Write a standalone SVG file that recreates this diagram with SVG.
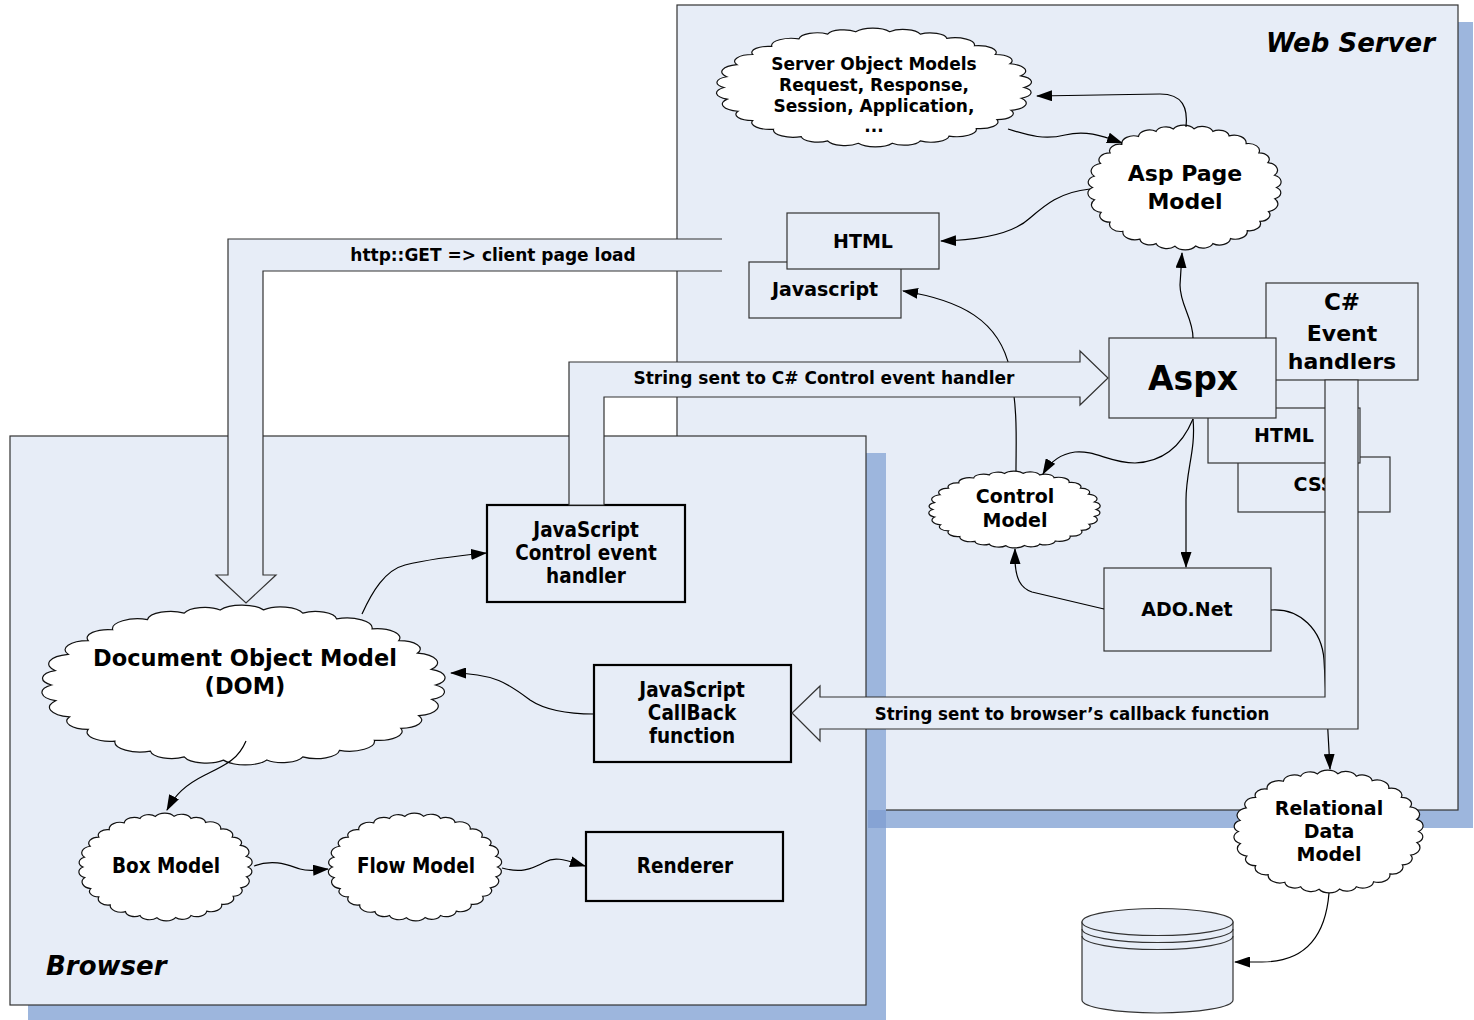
<svg xmlns="http://www.w3.org/2000/svg" width="1474" height="1020" viewBox="0 0 1474 1020">
<defs>
<style>
.panel{fill:#e7edf7;stroke:#333;stroke-width:1.2}
.shadow{fill:#9db6dd}
.box{fill:#e7edf7;stroke:#333;stroke-width:1.2}
.bbox{fill:#e7edf7;stroke:#000;stroke-width:2.2}
.cloud{fill:#fff;stroke:#111;stroke-width:1.2}
.conn{fill:none;stroke:#000;stroke-width:1.2;marker-end:url(#ah)}
.blk{fill:#e7edf7;stroke:#333;stroke-width:1.2}
.blkfill{fill:#e7edf7;stroke:none}
.blkline{fill:none;stroke:#333;stroke-width:1.2}
text{font-family:"DejaVu Sans",Verdana,sans-serif;font-weight:bold;fill:#000;text-anchor:middle;dominant-baseline:central}
.t{font-family:"DejaVu Sans Condensed","DejaVu Sans",sans-serif;font-stretch:condensed}
.title{font-style:italic;font-size:26px;dominant-baseline:alphabetic}
</style>
<marker id="ah" markerUnits="userSpaceOnUse" markerWidth="16" markerHeight="11" refX="15" refY="5.5" orient="auto" viewBox="0 0 16 11"><path d="M0,0 L16,5.5 L0,11 Z" fill="#000"/></marker>
<path id="cl" vector-effect="non-scaling-stroke" d="M92,0 A10.2,10.2 0 0 1 90.3,17.6 A12.1,12.1 0 0 1 84,37.4 A10.2,10.2 0 0 1 75.4,52.8 A11.1,11.1 0 0 1 62.7,67.3 A12.1,12.1 0 0 1 46,79.7 A11.1,11.1 0 0 1 28.4,87.5 A10.2,10.2 0 0 1 11.2,91.3 A12.1,12.1 0 0 1 -9.6,91.5 A11.1,11.1 0 0 1 -28.4,87.5 A10.2,10.2 0 0 1 -44.6,80.5 A12.1,12.1 0 0 1 -61.6,68.4 A11.1,11.1 0 0 1 -74.4,54.1 A10.2,10.2 0 0 1 -83.4,38.9 A12.1,12.1 0 0 1 -90,19.1 A11.1,11.1 0 0 1 -92,0 A10.2,10.2 0 0 1 -90.3,-17.6 A12.1,12.1 0 0 1 -84,-37.4 A11.1,11.1 0 0 1 -74.4,-54.1 A10.2,10.2 0 0 1 -62.7,-67.3 A12.1,12.1 0 0 1 -46,-79.7 A11.1,11.1 0 0 1 -28.4,-87.5 A10.2,10.2 0 0 1 -11.2,-91.3 A12.1,12.1 0 0 1 9.6,-91.5 A11.1,11.1 0 0 1 28.4,-87.5 A10.2,10.2 0 0 1 44.6,-80.5 A12.1,12.1 0 0 1 61.6,-68.4 A11.1,11.1 0 0 1 74.4,-54.1 A10.2,10.2 0 0 1 83.4,-38.9 A12.1,12.1 0 0 1 90,-19.1 A11.1,11.1 0 0 1 92,0 Z"/>
</defs>

<g id="panels">
<rect class="shadow" x="695" y="22" width="778" height="806"/>
<rect class="panel" x="677" y="5" width="781" height="805"/>
<rect class="shadow" x="28" y="453" width="858" height="567"/>
<rect fill="#86a3d4" x="868" y="810" width="18" height="18"/>
<rect class="panel" x="10" y="436" width="856" height="569"/>
<text class="title" x="1435" y="52" style="text-anchor:end">Web Server</text>
<text class="title" x="46" y="975" style="text-anchor:start">Browser</text>
</g>

<g id="node-som">
<use href="#cl" class="cloud" transform="translate(874,87.5) scale(1.631,0.61)"/>
<text x="874" y="64" font-size="17">Server Object Models</text>
<text x="874" y="85" font-size="17">Request, Response,</text>
<text x="874" y="106" font-size="17">Session, Application,</text>
<text x="874" y="126" font-size="17">...</text>
</g>

<g id="node-asp">
<use href="#cl" class="cloud" transform="translate(1184.5,187.5) scale(1.0,0.641)"/>
<text x="1185" y="173" font-size="22">Asp Page</text>
<text x="1185" y="201" font-size="22">Model</text>
</g>

<g id="node-javascript">
<rect class="box" x="749" y="262" width="152" height="56"/>
<text x="825" y="289" font-size="19">Javascript</text>
</g>
<g id="node-html-top">
<rect class="box" x="787" y="213" width="152" height="56"/>
<text x="863" y="241" font-size="19">HTML</text>
</g>

<g id="node-css">
<rect class="box" x="1238" y="457" width="152" height="55"/>
<text x="1314" y="484" font-size="19">CSS</text>
</g>
<g id="node-html-aspx">
<rect class="box" x="1208" y="408" width="152" height="55"/>
<text x="1284" y="435" font-size="19">HTML</text>
</g>
<g id="node-csharp">
<rect class="box" x="1266" y="283" width="152" height="97"/>
<text x="1342" y="302" font-size="23">C#</text>
<text x="1342" y="333" font-size="22">Event</text>
<text x="1342" y="361" font-size="22">handlers</text>
</g>
<g id="node-aspx">
<rect class="box" x="1109" y="338" width="167" height="80"/>
<text x="1193" y="378" font-size="33">Aspx</text>
</g>

<g id="node-control">
<use href="#cl" class="cloud" transform="translate(1014.5,509.5) scale(0.887,0.395)"/>
<text x="1015" y="496" font-size="19">Control</text>
<text x="1015" y="520" font-size="19">Model</text>
</g>

<g id="node-ado">
<rect class="box" x="1104" y="568" width="167" height="83"/>
<text x="1187" y="609" font-size="19">ADO.Net</text>
</g>

<g id="node-relational">
<use href="#cl" class="cloud" transform="translate(1328.5,831.5) scale(0.979,0.631)"/>
<text x="1329" y="808" font-size="19">Relational</text>
<text x="1329" y="831" font-size="19">Data</text>
<text x="1329" y="854" font-size="19">Model</text>
</g>

<g id="node-db">
<path class="box" d="M1082,922 L1082,1000 A75.5,13 0 0 0 1233,1000 L1233,922 Z"/>
<ellipse class="box" cx="1157.5" cy="922" rx="75.5" ry="13.5"/>
<path class="blkline" d="M1082,929 A75.5,13.5 0 0 0 1233,929 M1082,936 A75.5,13.5 0 0 0 1233,936"/>
</g>

<g id="node-dom">
<use href="#cl" class="cloud" transform="translate(243.5,685) scale(2.087,0.821)"/>
<text x="245" y="658" font-size="22.5">Document Object Model</text>
<text x="245" y="686" font-size="22.5">(DOM)</text>
</g>

<g id="node-jsctrl">
<rect class="bbox" x="487" y="505" width="198" height="97"/>
<text class="t" x="586" y="530" font-size="20.5">JavaScript</text>
<text class="t" x="586" y="553" font-size="20.5">Control event</text>
<text class="t" x="586" y="576" font-size="20.5">handler</text>
</g>

<g id="node-jscallback">
<rect class="bbox" x="594" y="665" width="197" height="97"/>
<text class="t" x="692" y="690" font-size="20.5">JavaScript</text>
<text class="t" x="692" y="713" font-size="20.5">CallBack</text>
<text class="t" x="692" y="736" font-size="20.5">function</text>
</g>

<g id="node-box">
<use href="#cl" class="cloud" transform="translate(165.5,867) scale(0.897,0.554)"/>
<text class="t" x="166" y="866" font-size="20.5">Box Model</text>
</g>
<g id="node-flow">
<use href="#cl" class="cloud" transform="translate(415,867) scale(0.897,0.554)"/>
<text class="t" x="416" y="866" font-size="20.5">Flow Model</text>
</g>
<g id="node-renderer">
<rect class="bbox" x="586" y="832" width="197" height="69"/>
<text class="t" x="685" y="866" font-size="20.5">Renderer</text>
</g>

<g id="connectors">
<path class="conn" d="M1186,127 C1188,108 1183,94 1160,94 L1037,96"/>
<path class="conn" d="M1008,129 C1030,136 1045,140 1065,135 C1085,130 1100,135 1122,143"/>
<path class="conn" d="M1090,189 C1060,192 1045,205 1030,218 C1015,232 985,240 941,241"/>
<path class="conn" d="M1193,338 C1193,318 1180,305 1180,285 L1182,253"/>
<path class="conn" d="M1016,471 C1016,440 1018,410 1010,370 C1000,320 960,300 903,291"/>
<path class="conn" d="M1193,419 C1180,450 1160,462 1135,463 C1110,463 1095,450 1075,452 C1060,454 1050,462 1043,474"/>
<path class="conn" d="M1193,419 C1196,450 1186,470 1186,500 L1186,567"/>
<path class="conn" d="M1104,609 L1032,592 C1020,588 1016,578 1015,562 L1015,549"/>
<path class="conn" d="M1271,610 C1300,608 1322,630 1324,660 L1330,769"/>
<path class="conn" d="M1329,893 C1326,930 1310,962 1262,962 L1235,962"/>
<path class="conn" d="M362,614 C372,592 385,570 405,565 C425,560 455,556 486,553"/>
<path class="conn" d="M594,714 C570,714 545,710 530,700 C510,685 495,673 451,673"/>
<path class="conn" d="M246,741 C238,760 225,765 205,775 C185,785 175,795 167,810"/>
<path class="conn" d="M254,866 C275,858 290,866 300,869 C310,872 315,870 328,869"/>
<path class="conn" d="M502,868 C520,873 530,870 545,862 C555,856 565,860 585,866"/>
</g>

<g id="flows">
<polygon class="blkfill" points="722,239 228,239 228,575 216,575 246,603 276,575 263,575 263,271 722,271"/>
<polyline class="blkline" points="722,239 228,239 228,575 216,575 246,603 276,575 263,575 263,271 722,271"/>
<text x="493" y="255" font-size="17">http::GET =&gt; client page load</text>
<polygon class="blk" points="569,505 569,362 1080,362 1080,351 1108,378 1080,405 1080,397 604,397 604,505"/>
<text x="824" y="378" font-size="17">String sent to C# Control event handler</text>
<polygon class="blk" points="1325,380 1325,697 820,697 820,686 792,713 820,741 820,729 1358,729 1358,380"/>
<text class="t" x="1072" y="713" font-size="18.5">String sent to browser’s callback function</text>
</g>
</svg>
